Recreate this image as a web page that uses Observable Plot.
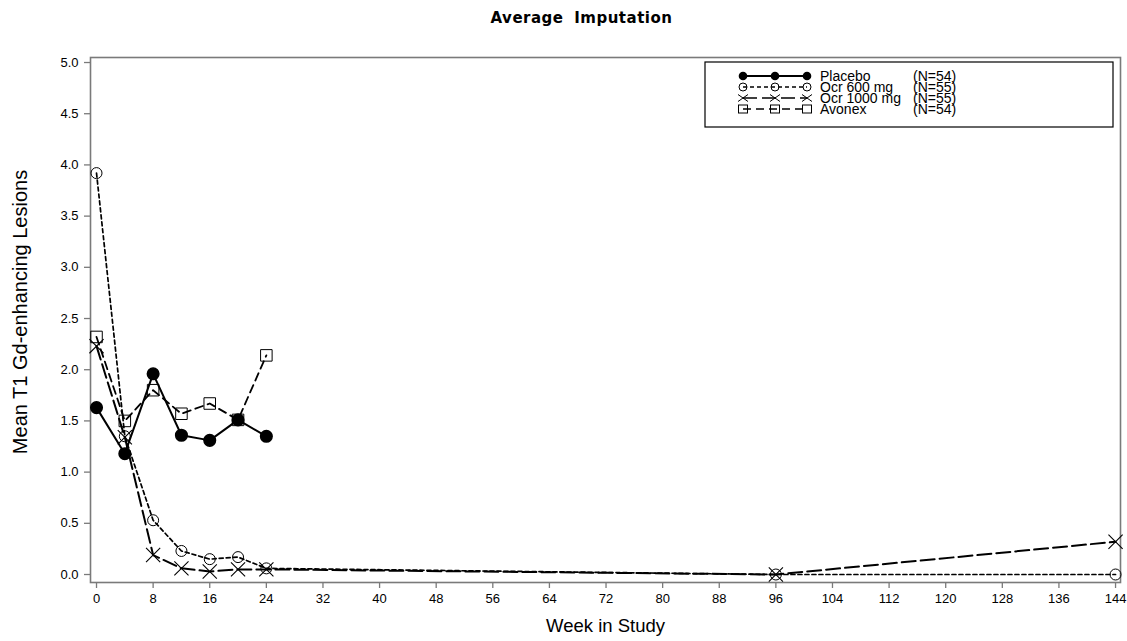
<!DOCTYPE html>
<html><head><meta charset="utf-8">
<script src="https://cdn.jsdelivr.net/npm/d3@7"></script>
<script src="https://cdn.jsdelivr.net/npm/@observablehq/plot@0.6"></script>
<style>
body{margin:0;background:#fff;font-family:"Liberation Sans",Arial,sans-serif;}
#wrap{position:relative;width:1127px;height:641px;overflow:hidden;}
#title{position:absolute;top:0;left:36px;width:1091px;height:40px;text-align:center;font-family:"DejaVu Sans",sans-serif;font-weight:bold;font-size:15px;line-height:36px;letter-spacing:0.5px;word-spacing:5px;color:#000;}
#chart{position:absolute;top:40px;left:0;}
#legend{position:absolute;left:0;top:0;pointer-events:none;}
</style></head><body>
<div id="wrap"><div id="title"></div><div id="chart"></div><svg id="legend" width="1127" height="641"></svg></div>
<script>
// ---- data ----
const weeksShort = [0, 4, 8, 12, 16, 20, 24];
const weeksLong = [0, 4, 8, 12, 16, 20, 24, 96, 144];
const placebo = [1.63, 1.18, 1.96, 1.36, 1.31, 1.51, 1.35];
const ocr600 = [3.92, 1.35, 0.53, 0.23, 0.15, 0.17, 0.06, 0.00, 0.00];
const ocr1000 = [2.23, 1.34, 0.19, 0.06, 0.03, 0.05, 0.05, 0.00, 0.32];
const avonex = [2.32, 1.50, 1.80, 1.57, 1.67, 1.51, 2.14];
const seriesNames = ["Placebo", "Ocr 600 mg", "Ocr 1000 mg", "Avonex"];
const seriesN = ["(N=54)", "(N=55)", "(N=55)", "(N=54)"];
const xTicks = d3.range(0, 145, 8);
const yTicks = d3.range(0, 5.01, 0.5);
const title = "Average Imputation";
const xLabel = "Week in Study";
const yLabel = "Mean T1 Gd-enhancing Lesions";

const mk = (ws, vs) => ws.map((w, i) => ({week: w, value: vs[i]}));
const dPlacebo = mk(weeksShort, placebo);
const d600 = mk(weeksLong, ocr600);
const d1000 = mk(weeksLong, ocr1000);
const dAvonex = mk(weeksShort, avonex);

const gray = "#7a7a7a";
const plot = Plot.plot({
  width: 1127, height: 601,
  marginLeft: 90, marginRight: 7, marginTop: 17, marginBottom: 59,
  style: {fontFamily: "'Liberation Sans', Arial, sans-serif", fontSize: "13px", color: "#000", background: "#fff"},
  x: {domain: [-0.85, 144.7]},
  y: {domain: [-0.078, 5.049]},
  marks: [
    Plot.frame({stroke: gray, strokeWidth: 1.6}),
    Plot.axisX({ticks: xTicks, tickSize: 6, tickPadding: 5, stroke: gray, strokeWidth: 1.3, label: null, fill: "#000"}),
    Plot.axisY({ticks: yTicks, tickSize: 6, tickPadding: 6, stroke: gray, strokeWidth: 1.3, tickFormat: d => d.toFixed(1), label: null, fill: "#000"}),
    Plot.text([xLabel], {frameAnchor: "bottom", dy: 49, text: d => d, fontSize: 18.5, fill: "#000"}),
    Plot.text([yLabel], {frameAnchor: "left", dx: -70, dy: -8, rotate: -90, textAnchor: "middle", text: d => d, fontSize: 20, fill: "#000"}),
    Plot.line(d600, {x: "week", y: "value", stroke: "#000", strokeWidth: 1.7, strokeDasharray: "4,3"}),
    Plot.line(d1000, {x: "week", y: "value", stroke: "#000", strokeWidth: 2, strokeDasharray: "14,5"}),
    Plot.line(dAvonex, {x: "week", y: "value", stroke: "#000", strokeWidth: 1.8, strokeDasharray: "8,5"}),
    Plot.line(dPlacebo, {x: "week", y: "value", stroke: "#000", strokeWidth: 2}),
    Plot.dot(d600, {x: "week", y: "value", symbol: "circle", r: 5.5, stroke: "#000", strokeWidth: 1, fill: "none"}),
    Plot.dot(d1000, {x: "week", y: "value", symbol: "times", r: 6.5, stroke: "#000", strokeWidth: 1.1}),
    Plot.dot(dAvonex, {x: "week", y: "value", symbol: "square", r: 6.5, stroke: "#000", strokeWidth: 1, fill: "none"}),
    Plot.dot(dPlacebo, {x: "week", y: "value", symbol: "circle", r: 5.8, stroke: "#000", fill: "#000"})
  ]
});
document.getElementById("chart").appendChild(plot);
document.getElementById("title").textContent = title;

// ---- legend ----
const lg = d3.select("#legend");
const font = "'Liberation Sans', Arial, sans-serif";
lg.append("rect").attr("x", 705).attr("y", 62).attr("width", 408).attr("height", 65)
  .attr("fill", "#fff").attr("stroke", "#000").attr("stroke-width", 1.2);
const rowY = [76, 87, 98, 109];
const dashes = [null, "4,3", "14,5", "8,5"];
const sx = [743, 775, 807];
seriesNames.forEach((name, i) => {
  const y = rowY[i];
  lg.append("line").attr("x1", 743).attr("x2", 807).attr("y1", y).attr("y2", y)
    .attr("stroke", "#000").attr("stroke-width", i === 0 ? 1.8 : 1.4).attr("stroke-dasharray", dashes[i]);
  sx.forEach(x => {
    if (i === 0) lg.append("circle").attr("cx", x).attr("cy", y).attr("r", 4.3).attr("fill", "#000");
    else if (i === 1) lg.append("circle").attr("cx", x).attr("cy", y).attr("r", 4).attr("fill", "none").attr("stroke", "#000");
    else if (i === 2) lg.append("path").attr("d", `M${x-5},${y-3.5}L${x+5},${y+3.5}M${x-5},${y+3.5}L${x+5},${y-3.5}`).attr("stroke", "#000").attr("stroke-width", 1);
    else lg.append("rect").attr("x", x - 4.5).attr("y", y - 4).attr("width", 9).attr("height", 8).attr("fill", "none").attr("stroke", "#000");
  });
  lg.append("text").attr("x", 820).attr("y", y + 5).attr("font-family", font).attr("font-size", 14).text(name);
  lg.append("text").attr("x", 913).attr("y", y + 5).attr("font-family", font).attr("font-size", 14).text(seriesN[i]);
});
</script>
</body></html>
